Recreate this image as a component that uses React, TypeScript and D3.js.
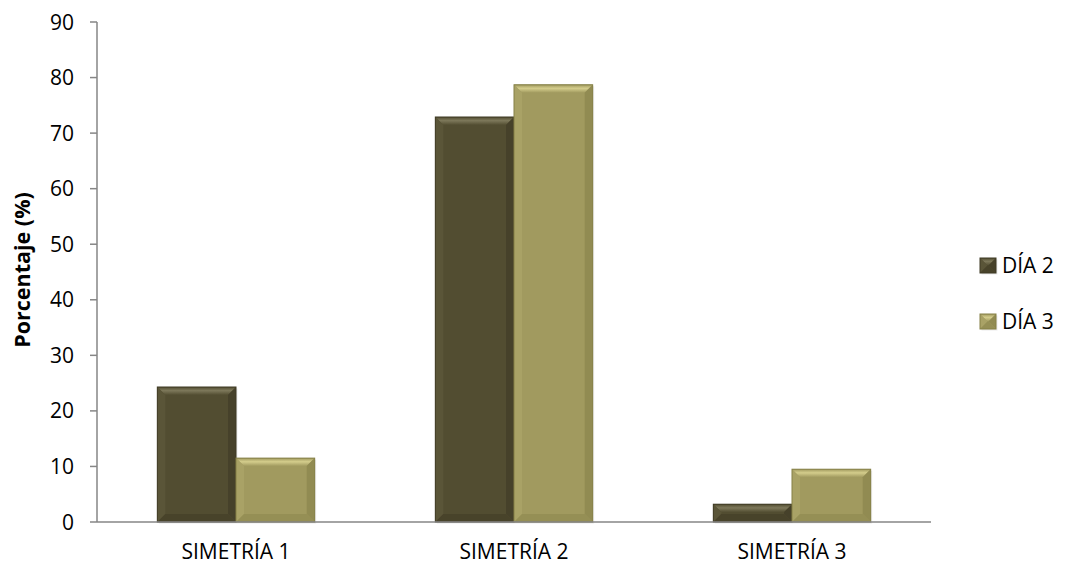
import React from "react";
import * as d3 from "d3";

const categories = ["SIMETRÍA 1", "SIMETRÍA 2", "SIMETRÍA 3"];
const seriesNames = ["DÍA 2", "DÍA 3"];
const dia2 = [24.3, 72.9, 3.2];
const dia3 = [11.5, 78.7, 9.5];
const yTicks = [0, 10, 20, 30, 40, 50, 60, 70, 80, 90];

const colors = [
  { id: "c0", base: "#524D31", top: "#7D785A", left: "#5A5538", right: "#46412A", bottom: "#48432A", edge: "#3F3B24" },
  { id: "c1", base: "#A19A5F", top: "#D4CD8C", left: "#A9A266", right: "#918B52", bottom: "#958F55", edge: "#858047" },
];

const FONT = "'Open Sans', Lato, sans-serif";

function BevelBar({ x, y, w, h, c }: { x: number; y: number; w: number; h: number; c: any }) {
  const b = Math.min(8, h / 2, w / 2);
  const x1 = x + w, y1 = y + h;
  return (
    <g>
      <rect x={x + 1.5} y={y + 1.5} width={w} height={h} fill="#000" opacity={0.08} />
      <rect x={x} y={y} width={w} height={h} fill={c.base} />
      <polygon points={`${x},${y} ${x1},${y} ${x1 - b},${y + b} ${x + b},${y + b}`} fill={`url(#top-${c.id})`} />
      <polygon points={`${x},${y} ${x + b},${y + b} ${x + b},${y1 - b} ${x},${y1}`} fill={c.left} />
      <polygon points={`${x1},${y} ${x1},${y1} ${x1 - b},${y1 - b} ${x1 - b},${y + b}`} fill={c.right} />
      <polygon points={`${x},${y1} ${x + b},${y1 - b} ${x1 - b},${y1 - b} ${x1},${y1}`} fill={c.bottom} />
      <rect x={x} y={y} width={w} height={h} fill="none" stroke={c.edge} strokeWidth={1} />
    </g>
  );
}

export default function App() {
  const width = 1068, height = 568;
  const left = 97, right = 931, top = 22, bottom = 522;
  const y = d3.scaleLinear().domain([0, 90]).range([bottom, top]);
  const x0 = d3.scaleBand().domain(categories).range([left, right]).paddingInner(0.434).paddingOuter(0.217);
  const x1 = d3.scaleBand().domain(seriesNames).range([0, x0.bandwidth()]);
  const data = [dia2, dia3];
  return (
    <svg width={width} height={height} style={{ position: "absolute", left: 0, top: 0 }}>
      <defs>
        {colors.map((c) => (
          <linearGradient key={c.id} id={`top-${c.id}`} x1="0" y1="0" x2="0" y2="1">
            <stop offset="0" stopColor={c.base} />
            <stop offset="0.45" stopColor={c.top} />
            <stop offset="1" stopColor={c.base} />
          </linearGradient>
        ))}
      </defs>
      <rect width={width} height={height} fill="#fff" />
      {categories.map((cat, i) =>
        seriesNames.map((s, j) => {
          const v = data[j][i];
          const bx = (x0(cat) as number) + (x1(s) as number);
          return <BevelBar key={cat + s} x={bx} y={y(v)} w={x1.bandwidth()} h={y(0) - y(v)} c={colors[j]} />;
        })
      )}
      <line x1={left} x2={left} y1={top} y2={bottom} stroke="#868686" strokeWidth={1.5} />
      <line x1={left} x2={right} y1={bottom} y2={bottom} stroke="#868686" strokeWidth={1.5} />
      {yTicks.map((t) => (
        <g key={t}>
          <line x1={left - 7} x2={left} y1={y(t)} y2={y(t)} stroke="#868686" strokeWidth={1.5} />
          <text x={74} y={y(t)} dy="0.36em" textAnchor="end" fontFamily={FONT} fontSize={21} fill="#000">
            {t}
          </text>
        </g>
      ))}
      {categories.map((cat) => (
        <text key={cat} x={(x0(cat) as number) + x0.bandwidth() / 2} y={559} textAnchor="middle" fontFamily={FONT} fontSize={21} fill="#000">
          {cat}
        </text>
      ))}
      <text transform={`translate(30,270) rotate(-90)`} textAnchor="middle" fontFamily={FONT} fontSize={21.5} fontWeight="bold" fill="#000">
        Porcentaje (%)
      </text>
      {seriesNames.map((s, j) => {
        const ly = 265.5 + j * 56;
        return (
          <g key={s}>
            <BevelBar x={980} y={ly - 7.5} w={16} h={15} c={colors[j]} />
            <text x={1002} y={ly + 7.5} fontFamily={FONT} fontSize={21} fill="#000">
              {s}
            </text>
          </g>
        );
      })}
    </svg>
  );
}
